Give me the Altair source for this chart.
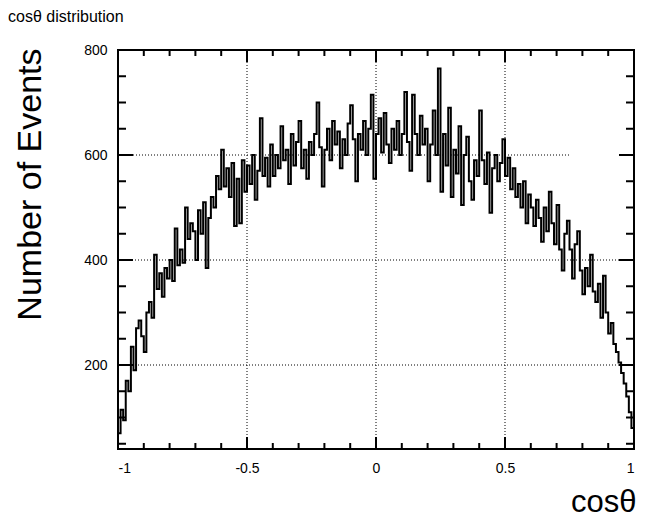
import altair as alt
import pandas as pd

# ---- data (200 bins, cos(theta) from -1 to 1) ----
counts = [
    70, 115, 95, 170, 150, 235, 190, 270, 285, 255,
    225, 300, 320, 290, 410, 345, 375, 330, 385, 365,
    400, 360, 460, 390, 420, 395, 500, 440, 470, 455,
    400, 495, 450, 510, 385, 480, 520, 500, 560, 535,
    610, 540, 575, 520, 585, 465, 555, 470, 590, 530,
    580, 545, 600, 515, 570, 670, 560, 595, 540, 620,
    560, 600, 575, 655, 590, 610, 545, 640, 580, 625,
    665, 575, 610, 555, 625, 600, 640, 700, 615, 540,
    610, 650, 590, 665, 620, 645, 575, 630, 600, 660,
    695, 630, 550, 640, 610, 665, 600, 650, 715, 555,
    640, 670, 605, 680, 620, 585, 650, 610, 665, 600,
    640, 720, 625, 570, 715, 640, 600, 675, 620, 650,
    550, 620, 685, 600, 765, 530, 640, 580, 690, 520,
    610, 565, 655, 505, 600, 635, 550, 515, 590, 560,
    685, 590, 545, 605, 490, 575, 600, 550, 585, 630,
    560, 595, 535, 575, 520, 545, 500, 550, 470, 525,
    500, 465, 515, 480, 435, 500, 455, 530, 470, 430,
    505, 420, 380, 450, 475, 420, 365, 430, 455, 380,
    335, 385, 350, 410, 340, 320, 355, 290, 370, 300,
    260, 280, 240, 225, 205, 185, 165, 140, 110, 80,
]
x_range = [-1.0, 1.0]
y_range = [40, 800]

x_label_values = [-1, -0.5, 0, 0.5, 1]
y_label_values = [200, 400, 600, 800]
x_minor = [-0.9, -0.8, -0.7, -0.6, -0.4, -0.3, -0.2, -0.1,
           0.1, 0.2, 0.3, 0.4, 0.6, 0.7, 0.8, 0.9]
y_minor = [50, 100, 150, 250, 300, 350, 450, 500, 550, 650, 700, 750]
x_grid = [-0.5, 0, 0.5]
y_grid_full = [200, 400]
y_grid_short = [600]

title_text = "cos\u03b8 distribution"
x_title = "cos\u03b8"
y_title = "Number of Events"

FONT = "Liberation Sans"
W, H = 516, 399
PAD = {"left": 110, "top": 42, "right": 4, "bottom": 70}

n = len(counts)
step = (x_range[1] - x_range[0]) / n
edges = [x_range[0] + i * step for i in range(n)] + [x_range[1]]
hist = pd.DataFrame({"x": edges, "y": counts + [counts[-1]]})

xs = alt.Scale(domain=x_range, nice=False, zero=False)
ys = alt.Scale(domain=y_range, nice=False, zero=False)

x_axis = alt.Axis(
    values=x_label_values, title=x_title, domain=False, ticks=False, tickSize=0,
    grid=False, labelFont=FONT, labelFontSize=14, labelColor="black",
    labelPadding=12,
    labelExpr="(datum.value < 0 ? '-' : '') + format(abs(datum.value), '~g')",
    titleFont=FONT, titleFontSize=31, titleFontWeight="normal", titleColor="black",
    titleX=W + 2, titleY=62, titleAlign="right", titleBaseline="alphabetic", titleAngle=0,
)
y_axis = alt.Axis(
    values=y_label_values, title=y_title, domain=False, ticks=False, tickSize=0,
    grid=False, labelFont=FONT, labelFontSize=14, labelColor="black",
    labelPadding=11, format="d",
    titleFont=FONT, titleFontSize=34, titleFontWeight="normal", titleColor="black",
    titleX=-88, titleY=-2, titleAlign="right", titleBaseline="middle", titleAngle=270,
)


def X(field):
    return alt.X(field, scale=xs, axis=x_axis)


def Y(field):
    return alt.Y(field, scale=ys, axis=y_axis)


line = alt.Chart(hist).mark_line(
    interpolate="step-after", color="black", strokeWidth=2
).encode(x=X("x:Q"), y=Y("y:Q"))

grid_x = alt.Chart(pd.DataFrame({"x": x_grid})).mark_rule(
    color="black", strokeWidth=1, strokeDash=[1, 2]
).encode(x=X("x:Q"))

grid_y = alt.Chart(pd.DataFrame({"y": y_grid_full})).mark_rule(
    color="black", strokeWidth=1, strokeDash=[1, 2]
).encode(y=Y("y:Q"))

grid_y_short = alt.Chart(pd.DataFrame({"y": y_grid_short})).mark_rule(
    color="black", strokeWidth=1, strokeDash=[1, 2]
).encode(y=Y("y:Q"), x=alt.value(0), x2=alt.value(round(W * 0.878)))


def xticks(vals, y0, y1):
    return alt.Chart(pd.DataFrame({"x": vals})).mark_rule(color="black", strokeWidth=2).encode(
        x=X("x:Q"), y=alt.value(y0), y2=alt.value(y1))


def yticks(vals, x0, x1):
    return alt.Chart(pd.DataFrame({"y": vals})).mark_rule(color="black", strokeWidth=2).encode(
        y=Y("y:Q"), x=alt.value(x0), x2=alt.value(x1))


ticks = [
    xticks(x_label_values, H, H - 12), xticks(x_minor, H, H - 6),
    xticks(x_label_values, 0, 12), xticks(x_minor, 0, 6),
    yticks(y_label_values, 0, 15), yticks(y_minor, 0, 8),
    yticks(y_label_values, W, W - 15), yticks(y_minor, W, W - 8),
]

title = alt.Chart(pd.DataFrame({"t": [title_text]})).mark_text(
    align="left", baseline="alphabetic", font=FONT, fontSize=16, color="black"
).encode(text="t:N", x=alt.value(-110), y=alt.value(-28))

chart = alt.layer(line, grid_x, grid_y, grid_y_short, *ticks, title).properties(
    width=W, height=H,
    autosize=alt.AutoSizeParams(type="none"),
    padding=PAD,
    background="white",
).configure_view(stroke="black", strokeWidth=2)

chart.save("out.html", embed_options={"renderer": "svg", "actions": False})
